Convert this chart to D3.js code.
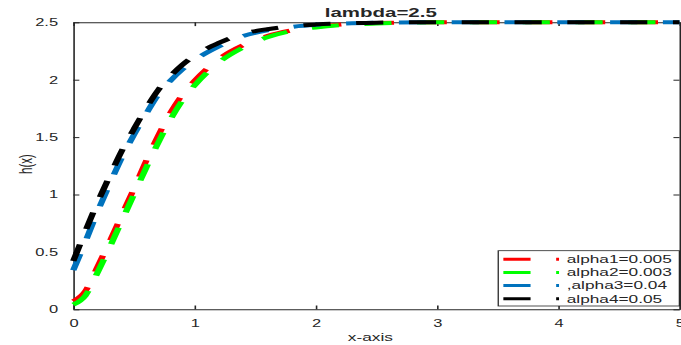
<!DOCTYPE html>
<html>
<head>
<meta charset="utf-8">
<script src="https://cdn.jsdelivr.net/npm/d3@7"></script>
<style>
  body { margin: 0; background: #fff; }
  svg { display: block; }
  text { font-family: "Liberation Sans", Arial, sans-serif; fill: #262626; }
</style>
</head>
<body>
<div id="chart"></div>
<script>
// values
var xVals = [0, 0.1, 0.2, 0.3, 0.4, 0.5, 0.6, 0.7, 0.8, 0.9, 1.0, 1.2, 1.4, 1.6, 1.8, 2.0, 2.5, 3, 4, 5]
var alpha1 = [0.07, 0.16, 0.37, 0.59, 0.82, 1.05, 1.29, 1.51, 1.71, 1.87, 1.99, 2.18, 2.30, 2.38, 2.43, 2.46, 2.494, 2.5, 2.5, 2.5]
var alpha2 = [0.04, 0.12, 0.32, 0.54, 0.77, 1.00, 1.23, 1.45, 1.65, 1.82, 1.95, 2.15, 2.28, 2.37, 2.425, 2.455, 2.49, 2.5, 2.5, 2.5]
var alpha3 = [0.34, 0.59, 0.85, 1.09, 1.32, 1.52, 1.70, 1.87, 1.99, 2.09, 2.17, 2.29, 2.38, 2.43, 2.46, 2.478, 2.496, 2.5, 2.5, 2.5]
var alpha4 = [0.42, 0.68, 0.93, 1.16, 1.38, 1.57, 1.75, 1.91, 2.03, 2.13, 2.21, 2.32, 2.40, 2.44, 2.465, 2.48, 2.497, 2.5, 2.5, 2.5]

var seriesNames = ['alpha1=0.005', 'alpha2=0.003', ',alpha3=0.04', 'alpha4=0.05']
var seriesColors = ['#ff0000', '#00ff00', '#0072bd', '#000000']
var seriesValues = [alpha1, alpha2, alpha3, alpha4]

var xTicks = [0, 1, 2, 3, 4, 5]
var yTicks = [0, 0.5, 1, 1.5, 2, 2.5]
var titleText = 'lambda=2.5'
var xLabel = 'x-axis'
var yLabel = 'h(x)'

// the original picture is stretched sideways, so draw narrow and scale x
var stretch = 1.6
var W = 681, H = 345

var plot = {left: 45.8, right: 424.7, top: 22.3, bottom: 309.3}
var axisColor = '#262626'

var svg = d3.select('#chart').append('svg')
  .attr('width', W)
  .attr('height', H)

var g = svg.append('g')
  .attr('transform', 'scale(' + stretch + ',1)')

var x = d3.scaleLinear().domain([0, 5]).range([plot.left, plot.right])
var y = d3.scaleLinear().domain([0, 2.5]).range([plot.bottom, plot.top])

var tickLen = 3.8

// bottom axis, ticks inward
var xAxis = g.append('g')
  .attr('transform', 'translate(0,' + plot.bottom + ')')
  .call(d3.axisBottom(x).tickValues(xTicks).tickSize(-tickLen).tickSizeOuter(0).tickPadding(10).tickFormat(d3.format('')))
xAxis.select('.domain').attr('stroke', axisColor)
xAxis.selectAll('line').attr('stroke', axisColor)
xAxis.selectAll('text').style('font-size', '10.3px').attr('fill', axisColor)

// left axis
var yAxis = g.append('g')
  .attr('transform', 'translate(' + plot.left + ',0)')
  .call(d3.axisLeft(y).tickValues(yTicks).tickSize(-tickLen).tickSizeOuter(0).tickPadding(9.5).tickFormat(d3.format('')))
yAxis.select('.domain').attr('stroke', axisColor)
yAxis.selectAll('line').attr('stroke', axisColor)
yAxis.selectAll('text').style('font-size', '10.3px').attr('fill', axisColor)

// top + right box lines with mirrored ticks
var xTop = g.append('g')
  .attr('transform', 'translate(0,' + plot.top + ')')
  .call(d3.axisTop(x).tickValues(xTicks).tickSize(-tickLen).tickSizeOuter(0).tickFormat(''))
xTop.select('.domain').attr('stroke', axisColor)
xTop.selectAll('line').attr('stroke', axisColor)

var yRight = g.append('g')
  .attr('transform', 'translate(' + plot.right + ',0)')
  .call(d3.axisRight(y).tickValues(yTicks).tickSize(-tickLen).tickSizeOuter(0).tickFormat(''))
yRight.select('.domain').attr('stroke', axisColor)
yRight.selectAll('line').attr('stroke', axisColor)

// curves
var line = d3.line()
  .x(function(d){ return x(d[0]) })
  .y(function(d){ return y(d[1]) })
  .curve(d3.curveMonotoneX)

var i;
for (i = 0; i < seriesValues.length; i++) {
  var pts = xVals.map(function(v, j){ return [v, seriesValues[i][j]] })
  g.append('path')
    .datum(pts)
    .attr('d', line)
    .attr('fill', 'none')
    .attr('stroke', seriesColors[i])
    .attr('stroke-width', 4)
    .attr('stroke-dasharray', '17,16')
    .attr('stroke-linecap', 'butt')
}

// title and labels
g.append('text')
  .attr('x', 238)
  .attr('y', 17)
  .attr('text-anchor', 'middle')
  .style('font-size', '12.8px')
  .style('font-weight', 'bold')
  .attr('fill', '#000')
  .text(titleText)

g.append('text')
  .attr('x', 231.5)
  .attr('y', 341.5)
  .attr('text-anchor', 'middle')
  .style('font-size', '10.8px')
  .text(xLabel)

g.append('text')
  .attr('transform', 'translate(19.8,164) rotate(-90)')
  .attr('text-anchor', 'middle')
  .style('font-size', '11.5px')
  .text(yLabel)

// legend, bottom right
var leg = {x0: 311.4, x1: 424.6, y0: 250.7, y1: 306}
var legend = g.append('g').attr('class', 'legend')

legend.append('rect')
  .attr('x', leg.x0)
  .attr('y', leg.y0)
  .attr('width', leg.x1 - leg.x0)
  .attr('height', leg.y1 - leg.y0)
  .attr('fill', '#fff')
  .attr('stroke', axisColor)
  .attr('stroke-width', 0.8)

var rowY = d3.scaleLinear().domain([0, 3]).range([259.3, 298.7])

for (i = 0; i < seriesNames.length; i++) {
  legend.append('line')
    .attr('x1', 314.6)
    .attr('x2', 349.4)
    .attr('y1', rowY(i))
    .attr('y2', rowY(i))
    .attr('stroke', seriesColors[i])
    .attr('stroke-width', 3)
    .attr('stroke-dasharray', '17,16')

  legend.append('text')
    .attr('x', 354.2)
    .attr('y', rowY(i))
    .attr('dy', '0.36em')
    .style('font-size', '10.8px')
    .attr('fill', '#000')
    .text(seriesNames[i])
}
</script>
</body>
</html>
